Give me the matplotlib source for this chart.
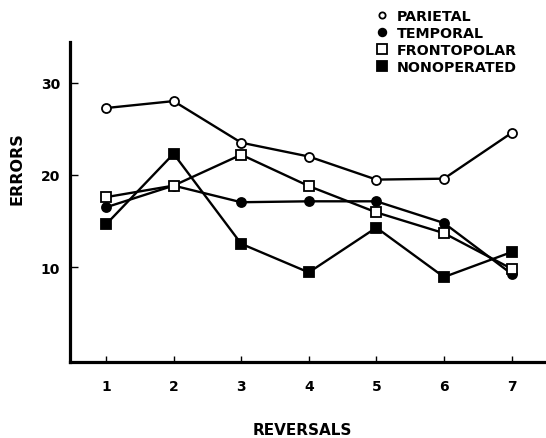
import matplotlib
matplotlib.use("Agg")
import matplotlib.pyplot as plt
from matplotlib.lines import Line2D

reversals = [1, 2, 3, 4, 5, 6, 7]
parietal = [27.25, 28.0, 23.5, 22.0, 19.5, 19.6, 24.55]
temporal = [16.5, 18.85, 17.05, 17.15, 17.15, 14.8, 9.3]
frontopolar = [17.6, 18.85, 22.2, 18.8, 15.95, 13.7, 9.85]
nonoperated = [14.65, 22.3, 12.55, 9.45, 14.3, 8.95, 11.65]
series_names = ["PARIETAL", "TEMPORAL", "FRONTOPOLAR", "NONOPERATED"]
y_ticks = [10, 20, 30]

W, H = 546, 439
fig = plt.figure(figsize=(W / 100, H / 100), dpi=100)
ax = fig.add_axes([70 / W, 1 - 363 / H, (W - 70) / W, (363 - 43) / H])

styles = [
    dict(marker="o", mfc="white", ms=6.5),
    dict(marker="o", mfc="black", ms=6.5),
    dict(marker="s", mfc="white", ms=7.5),
    dict(marker="s", mfc="black", ms=7.5),
]
legend_ms = [4.5, 5.5, 6.5, 6.5]
data = [parietal, temporal, frontopolar, nonoperated]
for vals, st in zip(data, styles):
    ax.plot(reversals, vals, color="black", lw=1.7, mec="black", mew=1.3,
            zorder=3, **st)

ax.set_xlim(0.467, 7.51)
ax.set_ylim(-0.25, 34.4)
for s in ["top", "right"]:
    ax.spines[s].set_visible(False)
for s in ["left", "bottom"]:
    ax.spines[s].set_linewidth(2.3)

ax.set_xticks(reversals)
ax.set_yticks(y_ticks)
ax.tick_params(axis="x", direction="in", length=4, width=1, pad=12,
               labelsize=10)
ax.tick_params(axis="y", direction="in", length=6, width=1, pad=7,
               labelsize=10)
for lab in ax.get_xticklabels() + ax.get_yticklabels():
    lab.set_fontweight("bold")

fig.text(302.5 / W, 1 - 431 / H, "REVERSALS", ha="center", va="center",
         fontsize=11, fontweight="bold")
fig.text(17.5 / W, 1 - 169 / H, "ERRORS", ha="center", va="center",
         rotation=90, fontsize=11.5, fontweight="bold")

handles = []
for st, ms in zip(styles, legend_ms):
    handles.append(Line2D([], [], color="black", linestyle="none",
                          mec="black", mew=1.3,
                          marker=st["marker"], mfc=st["mfc"], ms=ms))
leg = ax.legend(handles, series_names, loc="upper left",
                bbox_to_anchor=(378 / W, 1 - 10 / H),
                bbox_transform=fig.transFigure, frameon=False,
                handlelength=0.6, handletextpad=0.7, labelspacing=0.22,
                borderpad=0, borderaxespad=0,
                prop=dict(weight="bold", size=10.3))

fig.savefig("out.png", dpi=100)
